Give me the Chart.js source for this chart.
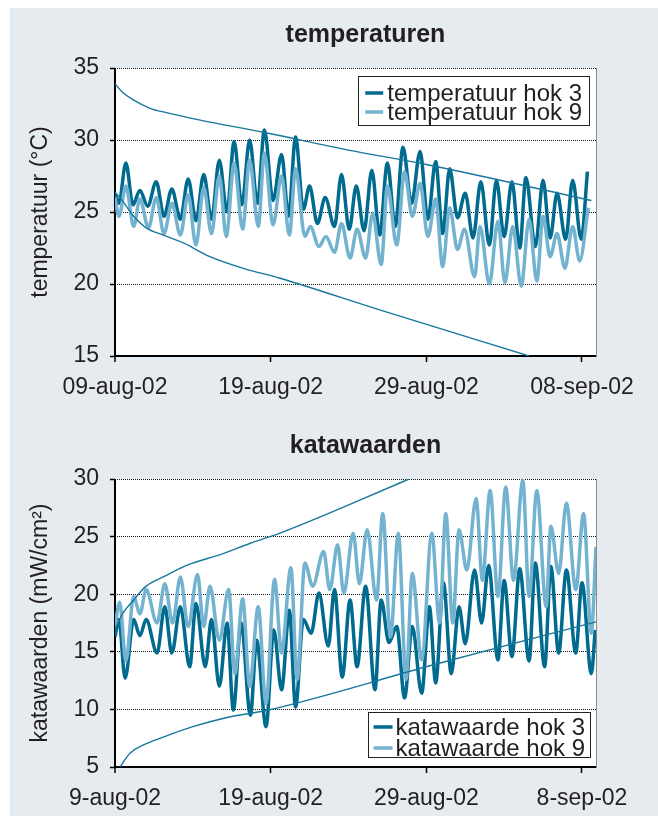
<!DOCTYPE html>
<html lang="nl">
<head>
<meta charset="UTF-8">
<title>temperaturen en katawaarden</title>
<script src="https://cdn.jsdelivr.net/npm/chart.js@4"></script>
<style>
  html, body { margin: 0; padding: 0; background: #fff; }
  #panel { position: absolute; left: 10px; top: 8px; width: 648px; height: 808px; background: #e6ebef; }
  #panel canvas { position: absolute; left: 0; }
  #c1 { top: 0; }
  #c2 { top: 400px; }
</style>
</head>
<body>
<div id="panel">
  <canvas id="c1" width="648" height="400"></canvas>
  <canvas id="c2" width="648" height="408"></canvas>
</div>
<script>
// x = dagen na 9 augustus 2002, 00:00
const tickDays = [0, 10, 20, 30];
const tempTickLabels = ['09-aug-02', '19-aug-02', '29-aug-02', '08-sep-02'];
const kataTickLabels = ['9-aug-02', '19-aug-02', '29-aug-02', '8-sep-02'];

// temperatuur hok 3
const temp3Days = [0, 0.25, 0.7, 1.15, 1.6, 2.1, 2.65, 3.15, 3.65, 4.2, 4.7, 5.2, 5.7, 6.2, 6.7, 7.2, 7.65, 8.15, 8.65, 9.15,
  9.6, 10.15, 10.7, 11.15, 11.6, 12.1, 12.5, 13.0, 13.5, 14.1, 14.55, 15.05, 15.5, 16.0, 16.5, 17.0, 17.5, 18.0, 18.5, 19.05,
  19.6, 20.1, 20.6, 21.05, 21.5, 22.0, 22.5, 23.0, 23.5, 24.05, 24.5, 25.0, 25.5, 26.0, 26.4, 27.0, 27.5, 27.95, 28.4, 28.95,
  29.4, 29.95, 30.35];
const temp3 = [26.3, 25.6, 28.4, 25.5, 26.5, 25.4, 27.1, 24.7, 26.6, 24.5, 27.3, 24.4, 27.6, 24.5, 28.6, 25.0, 29.9, 25.5, 30.0, 25.6,
  30.7, 25.8, 29.0, 24.7, 30.2, 25.2, 26.8, 24.2, 26.0, 24.0, 27.6, 23.8, 26.8, 23.7, 27.9, 23.4, 28.4, 24.0, 29.5, 25.6,
  29.2, 24.5, 28.5, 23.5, 28.0, 24.6, 26.3, 23.2, 27.1, 22.7, 27.2, 23.3, 27.1, 22.5, 27.4, 22.6, 27.2, 23.2, 26.3, 23.1,
  27.2, 23.1, 27.8];

// temperatuur hok 9
const temp9Days = [0, 0.25, 0.7, 1.2, 1.6, 2.15, 2.65, 3.15, 3.65, 4.2, 4.7, 5.2, 5.7, 6.2, 6.7, 7.15, 7.65, 8.2, 8.65, 9.2,
  9.6, 10.15, 10.7, 11.2, 11.6, 12.2, 12.55, 13.1, 13.55, 14.1, 14.55, 15.1, 15.55, 16.1, 16.55, 17.1, 17.5, 18.1, 18.6, 19.1,
  19.6, 20.1, 20.6, 21.05, 21.5, 22.0, 22.45, 23.1, 23.45, 24.05, 24.6, 25.05, 25.55, 26.1, 26.6, 27.1, 27.5, 27.95, 28.4, 28.9,
  29.4, 29.85, 30.4];
const temp9 = [26.0, 24.7, 26.8, 24.0, 25.9, 23.9, 26.0, 23.5, 25.6, 23.4, 26.2, 22.7, 26.7, 23.5, 27.5, 23.3, 28.4, 23.8, 28.6, 24.0,
  29.1, 24.1, 27.5, 23.4, 28.0, 23.3, 24.0, 22.6, 23.3, 22.2, 24.2, 21.8, 23.8, 21.8, 24.9, 21.35, 26.8, 22.7, 27.8, 24.7,
  27.0, 23.3, 25.9, 21.2, 25.3, 22.4, 23.8, 20.5, 24.0, 20.0, 24.35, 20.1, 24.0, 19.85, 24.5, 20.2, 24.7, 21.9, 23.5, 21.1,
  24.0, 21.6, 25.3];

// grenslijnen temperatuur
const tempUpperDays = [0, 0.5, 1.15, 2.25, 3.3, 5.4, 9.7, 15, 20, 30.6];
const tempUpper = [33.9, 33.3, 32.8, 32.2, 31.9, 31.4, 30.5, 29.3, 28.3, 25.8];
const tempLowerDays = [0, 0.53, 1.2, 2.0, 3.1, 4.4, 6.1, 8.2, 10.6, 17, 26.6];
const tempLower = [26.4, 25.7, 24.7, 23.9, 23.4, 22.85, 21.9, 21.1, 20.4, 18.2, 15.0];

// katawaarde hok 3
const kata3Days = [0, 0.25, 0.65, 1.2, 1.6, 2.0, 2.7, 3.2, 3.65, 4.2, 4.8, 5.2, 5.8, 6.2, 6.7, 7.2, 7.6, 8.1, 8.7, 9.1,
  9.7, 10.2, 10.7, 11.2, 11.6, 12.1, 12.6, 13.1, 13.7, 14.1, 14.6, 15.1, 15.55, 16.1, 16.7, 17.1, 17.6, 18.1, 18.6, 19.1,
  19.7, 20.2, 20.6, 21.1, 21.6, 22.1, 22.5, 23.1, 23.55, 24.0, 24.6, 25.0, 25.5, 26.0, 26.6, 27.0, 27.6, 28.0, 28.5, 29.0,
  29.6, 30.0, 30.6, 30.85];
const kata3 = [16.3, 17.8, 12.7, 17.8, 16.4, 17.8, 14.9, 18.9, 14.9, 18.9, 13.7, 19.2, 13.7, 17.8, 12.0, 17.5, 9.95, 17.5, 9.5, 16.0,
  8.5, 16.9, 11.7, 18.6, 10.2, 17.8, 16.6, 20.1, 15.5, 20.4, 12.8, 19.5, 13.7, 20.7, 11.7, 19.5, 15.8, 17.2, 11.0, 17.2,
  11.4, 18.9, 12.3, 21.0, 13.1, 18.9, 15.7, 22.1, 17.5, 22.5, 14.3, 21.2, 14.6, 22.2, 14.2, 22.7, 13.7, 22.4, 14.9, 22.1,
  14.9, 21.0, 13.1, 16.9];

// katawaarde hok 9
const kata9Days = [0, 0.3, 0.7, 1.2, 1.6, 2.0, 2.7, 3.2, 3.7, 4.2, 4.7, 5.3, 5.7, 6.1, 6.7, 7.3, 7.7, 8.2, 8.65, 9.2,
  9.7, 10.25, 10.7, 11.3, 11.7, 12.2, 12.7, 13.4, 13.8, 14.3, 14.7, 15.3, 15.7, 16.2, 16.8, 17.2, 17.7, 18.2, 18.7, 19.1,
  19.7, 20.35, 20.85, 21.25, 21.7, 22.1, 22.6, 23.2, 23.6, 24.1, 24.6, 25.1, 25.6, 26.2, 26.6, 27.1, 27.7, 28.0, 28.5, 29.0,
  29.6, 30.1, 30.6, 30.9];
const kata9 = [17.2, 19.3, 14.2, 19.8, 18.3, 20.4, 17.5, 20.9, 17.5, 21.5, 17.2, 21.7, 17.2, 20.7, 16.0, 20.4, 13.1, 19.6, 12.0, 18.9,
  10.5, 21.3, 14.9, 22.3, 12.6, 22.7, 20.7, 23.7, 20.4, 24.3, 20.1, 25.3, 20.9, 25.6, 19.5, 27.0, 16.3, 25.3, 12.6, 21.8,
  14.3, 25.3, 17.5, 27.0, 17.5, 25.6, 22.1, 28.3, 21.2, 29.0, 19.8, 29.3, 21.2, 29.9, 19.8, 29.0, 18.9, 25.9, 21.8, 27.9,
  20.4, 27.0, 16.6, 24.1];

// grenslijnen katawaarde
const kataUpperDays = [0, 0.53, 1.2, 2.0, 3.1, 4.6, 6.9, 8.65, 10.6, 18.9];
const kataUpper = [17.0, 18.4, 19.5, 20.7, 21.5, 22.5, 23.5, 24.4, 25.3, 30.0];
const kataLowerDays = [0.32, 0.96, 1.8, 3.1, 5.0, 7.2, 9.7, 20.4, 30.9];
const kataLower = [5.0, 6.2, 6.9, 7.6, 8.5, 9.3, 9.9, 13.85, 17.6];

const DARK = '#006a8f';
const LIGHT = '#74b3d0';
const EDGE = '#17779d';
const INK = '#231f20';
const FAMILY = "'Liberation Sans', Arial, sans-serif";

const pts = (days, vals) => days.map((x, i) => ({ x: x, y: vals[i] }));

// witte plotvlak
const plotBg = {
  id: 'plotBg',
  beforeDraw(chart) {
    const { ctx, chartArea: a } = chart;
    ctx.save();
    ctx.fillStyle = '#fff';
    ctx.fillRect(a.left, a.top, a.right - a.left, a.bottom - a.top);
    ctx.restore();
  }
};

// titel boven het plotvlak
const panelTitle = {
  id: 'panelTitle',
  afterDraw(chart, args, o) {
    const { ctx, chartArea: a } = chart;
    ctx.save();
    ctx.font = 'bold 25px ' + FAMILY;
    ctx.fillStyle = INK;
    ctx.textAlign = 'center';
    ctx.textBaseline = 'alphabetic';
    ctx.fillText(o.text, (a.left + a.right) / 2 + o.shift, o.baseline);
    ctx.restore();
  }
};

// legenda met kader binnen het plotvlak
const boxLegend = {
  id: 'boxLegend',
  afterDatasetsDraw(chart, args, o) {
    const { ctx, chartArea: a } = chart;
    const items = chart.data.datasets.filter(d => d.label);
    ctx.save();
    ctx.font = '24px ' + FAMILY;
    const tw = Math.max(...items.map(d => ctx.measureText(d.label).width));
    const w = o.padLeft + o.lineLen + o.gap + tw + o.padRight;
    const x = a.right - o.right - w;
    const y = o.top != null ? a.top + o.top : a.bottom - o.bottom - o.height;
    ctx.fillStyle = '#fff';
    ctx.fillRect(x, y, w, o.height);
    ctx.strokeStyle = '#222';
    ctx.lineWidth = 1;
    ctx.strokeRect(Math.round(x) + 0.5, Math.round(y) + 0.5, Math.round(w), o.height);
    items.forEach((d, i) => {
      const cy = y + o.rows[i];
      ctx.strokeStyle = d.borderColor;
      ctx.lineWidth = 3.5;
      ctx.beginPath();
      ctx.moveTo(x + o.padLeft, cy);
      ctx.lineTo(x + o.padLeft + o.lineLen, cy);
      ctx.stroke();
      ctx.fillStyle = INK;
      ctx.textBaseline = 'middle';
      ctx.fillText(d.label, x + o.padLeft + o.lineLen + o.gap, cy + 1);
    });
    ctx.restore();
  }
};

function series(label, data, color, order) {
  return {
    label: label, data: data, borderColor: color, backgroundColor: color,
    borderWidth: 3.5, pointRadius: 0, order: order,
    cubicInterpolationMode: 'monotone', borderJoinStyle: 'round'
  };
}
function edge(data) {
  return {
    data: data, borderColor: EDGE, borderWidth: 1.4, pointRadius: 0, order: 0,
    cubicInterpolationMode: 'monotone'
  };
}

function makeChart(id, o) {
  return new Chart(document.getElementById(id), {
    type: 'line',
    data: { datasets: o.datasets },
    options: {
      responsive: false,
      animation: false,
      events: [],
      layout: { padding: { left: 0, right: 62, top: o.padTop, bottom: 0 } },
      plugins: {
        legend: { display: false },
        tooltip: { enabled: false },
        panelTitle: { text: o.title, shift: 10, baseline: o.titleBaseline },
        boxLegend: o.legend
      },
      scales: {
        x: {
          type: 'linear', min: 0, max: 30.9,
          afterBuildTicks: s => { s.ticks = tickDays.map(v => ({ value: v })); },
          afterFit: s => { s.height = o.xHeight; },
          ticks: {
            autoSkip: false, maxRotation: 0, padding: 12, color: INK,
            font: { family: FAMILY, size: 23 },
            callback: v => o.tickLabels[tickDays.indexOf(v)]
          },
          grid: {
            color: c => (c.tick && c.tick.value === 0) ? '#000' : 'rgba(0,0,0,0)',
            lineWidth: c => (c.tick && c.tick.value === 0) ? 2 : 1,
            tickColor: '#000', tickLength: 6, tickWidth: 1.5
          },
          border: { color: '#000', width: 2 }
        },
        y: {
          min: o.yMin, max: o.yMax,
          afterFit: s => { s.width = 105; },
          ticks: { stepSize: 5, padding: 11, color: INK, font: { family: FAMILY, size: 23 } },
          grid: { color: '#111', lineWidth: 1, tickColor: '#000', tickLength: 5, tickWidth: 1.5 },
          border: { display: false, dash: [1, 1] },
          title: {
            display: true, text: o.yTitle, color: INK,
            font: { family: FAMILY, size: 23 }, padding: { top: 17, bottom: 0 }
          }
        },
        r: {
          position: 'right', display: true,
          afterFit: s => { s.width = 0; },
          grid: { display: false, drawTicks: false },
          ticks: { display: false },
          border: { display: true, color: '#8c8c8c', width: 1 }
        }
      }
    },
    plugins: [plotBg, panelTitle, boxLegend]
  });
}

makeChart('c1', {
  title: 'temperaturen', titleBaseline: 34, padTop: 60, xHeight: 52,
  yMin: 15, yMax: 35, yTitle: 'temperatuur (°C)', tickLabels: tempTickLabels,
  legend: { top: 8, right: 7, height: 49, rows: [17, 36], padLeft: 7, lineLen: 18, gap: 4, padRight: 7 },
  datasets: [
    series('temperatuur hok 3', pts(temp3Days, temp3), DARK, 2),
    series('temperatuur hok 9', pts(temp9Days, temp9), LIGHT, 1),
    edge(pts(tempUpperDays, tempUpper)),
    edge(pts(tempLowerDays, tempLower))
  ]
});

makeChart('c2', {
  title: 'katawaarden', titleBaseline: 45, padTop: 71, xHeight: 49,
  yMin: 5, yMax: 30, yTitle: 'katawaarden (mW/cm²)', tickLabels: kataTickLabels,
  legend: { bottom: 10, right: 6, height: 45, rows: [15, 36], padLeft: 6, lineLen: 19, gap: 3, padRight: 5 },
  datasets: [
    series('katawaarde hok 3', pts(kata3Days, kata3), DARK, 2),
    series('katawaarde hok 9', pts(kata9Days, kata9), LIGHT, 1),
    edge(pts(kataUpperDays, kataUpper)),
    edge(pts(kataLowerDays, kataLower))
  ]
});
</script>
</body>
</html>
